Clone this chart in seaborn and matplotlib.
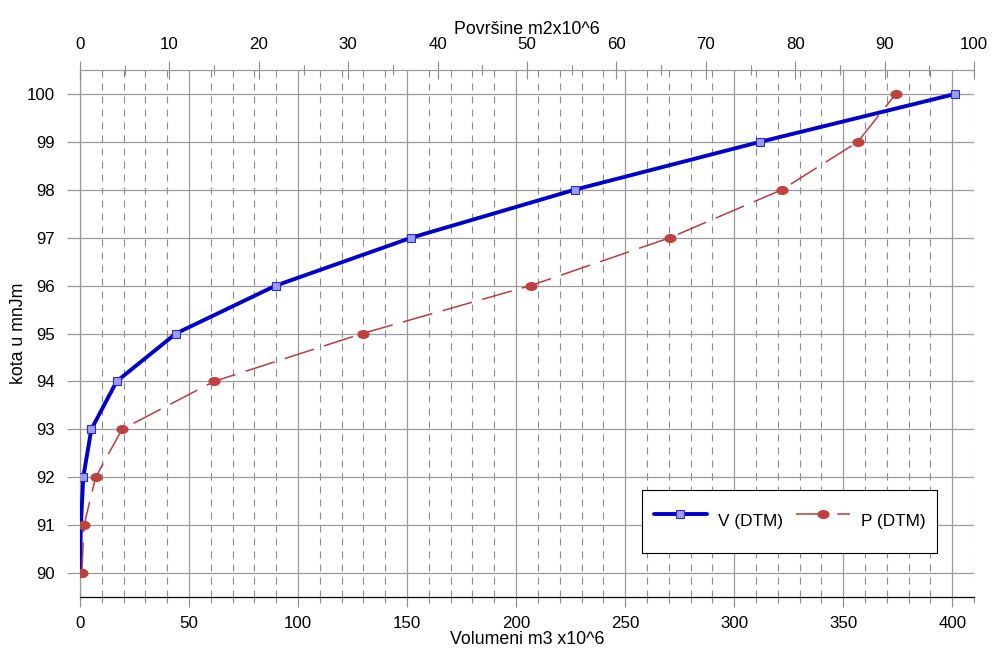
import matplotlib
matplotlib.use("Agg")
import matplotlib.pyplot as plt
from matplotlib.ticker import MultipleLocator
from matplotlib.path import Path
from matplotlib.transforms import Affine2D
import seaborn as sns
import pandas as pd

# kota (m n.J.m.), volumen (m3 x10^6), povrsina (m2 x10^6)
kota = [90, 91, 92, 93, 94, 95, 96, 97, 98, 99, 100]
volumen = [0.0, 0.4, 1.5, 5.2, 16.8, 44.0, 89.8, 152.0, 226.8, 311.9, 401.4]
povrsina = [0.2, 0.45, 1.75, 4.7, 15.0, 31.6, 50.4, 66.0, 78.5, 87.0, 91.25]

df = pd.DataFrame({"kota": kota, "V": volumen, "P": povrsina})

sns.set_theme(style="ticks")
plt.rcParams["font.family"] = ["Liberation Sans", "DejaVu Sans"]
plt.rcParams["font.size"] = 12
plt.rcParams["text.color"] = "black"
plt.rcParams["axes.labelcolor"] = "black"
plt.rcParams["xtick.labelcolor"] = "black"
plt.rcParams["ytick.labelcolor"] = "black"

GRID = "#9a9a9a"
TICK = "#8a8a8a"

fig = plt.figure(figsize=(9.92, 6.52), dpi=100)
ax = fig.add_axes([80 / 992, 55 / 652, 894 / 992, 527 / 652])
ax2 = ax.twiny()

ellipse = Path.unit_circle().transformed(Affine2D().scale(1.0, 0.72))

sns.lineplot(data=df, x="V", y="kota", ax=ax, legend=False, label="V (DTM)",
             color="#0000cc", lw=2.8, marker="s", markersize=6,
             markerfacecolor="#9c9cf0", markeredgecolor="#2a2acc",
             markeredgewidth=0.8, zorder=3)
sns.lineplot(data=df, x="P", y="kota", ax=ax2, legend=False, label="P (DTM)",
             color="#bb3c3c", lw=1.1, dashes=False, marker=ellipse, markersize=8,
             markerfacecolor="#c04040", markeredgecolor="#c04040", zorder=3)
ax2.get_lines()[0].set_dashes((20, 7))

# bottom axis (volume)
ax.set_xlim(0, 410)
ax.set_ylim(89.5, 100.5)
ax.xaxis.set_major_locator(MultipleLocator(50))
ax.xaxis.set_minor_locator(MultipleLocator(10))
ax.yaxis.set_major_locator(MultipleLocator(1))
ax.set_axisbelow(True)
ax.grid(which="major", axis="both", color=GRID, lw=0.9, ls="-")
ax.grid(which="minor", axis="x", color=TICK, lw=0.8, ls=(0, (6.3, 5.4)))
ax.tick_params(axis="x", which="major", bottom=True, top=False, direction="out",
               length=7, width=0.8, color=TICK, pad=7, labelsize=12.2)
ax.tick_params(axis="x", which="minor", bottom=True, top=False, direction="out",
               length=4.5, width=0.8, color=TICK)
ax.tick_params(axis="y", which="major", left=True, right=False, direction="out",
               length=9.5, width=0.9, color=GRID, pad=8.6, labelsize=12.2)
ax.set_xlabel("Volumeni m3 x10^6", fontsize=12.8, labelpad=0)
ax.set_ylabel("kota u mnJm", fontsize=12.8, labelpad=0)
for s in ["top", "right"]:
    ax.spines[s].set_visible(False)
ax.spines["left"].set_color(GRID)
ax.spines["left"].set_linewidth(0.9)
ax.spines["bottom"].set_color("black")
ax.spines["bottom"].set_linewidth(0.9)

# top axis (surface)
ax2.set_xlim(0, 100)
ax2.xaxis.set_major_locator(MultipleLocator(10))
ax2.xaxis.set_minor_locator(MultipleLocator(5))
ax2.tick_params(axis="x", which="major", top=True, bottom=False, direction="inout",
                length=13, width=0.8, color=TICK, pad=6.8, labelsize=12.2)
ax2.tick_params(axis="x", which="minor", top=True, bottom=False, direction="inout",
                length=7, width=0.8, color=TICK)
ax2.set_xlabel("Površine m2x10^6", fontsize=12.8, labelpad=1.5)
for s in ["bottom", "left", "right"]:
    ax2.spines[s].set_visible(False)
ax2.spines["top"].set_color(GRID)
ax2.spines["top"].set_linewidth(0.9)
ax2.set_ylim(89.5, 100.5)

h1, l1 = ax.get_legend_handles_labels()
h2, l2 = ax2.get_legend_handles_labels()
leg = ax2.legend(h1 + h2, l1 + l2, loc="center", bbox_to_anchor=(0.7936, 0.1433),
                 ncol=2, frameon=True, fancybox=False, shadow=False, framealpha=1,
                 edgecolor="black", fontsize=12.4, handlelength=3.1, handleheight=3.2,
                 handletextpad=0.65, columnspacing=0.75, borderpad=0.65,
                 borderaxespad=0)
leg.get_frame().set_linewidth(0.8)

fig.savefig("out.png", dpi=100)
plt.close(fig)
